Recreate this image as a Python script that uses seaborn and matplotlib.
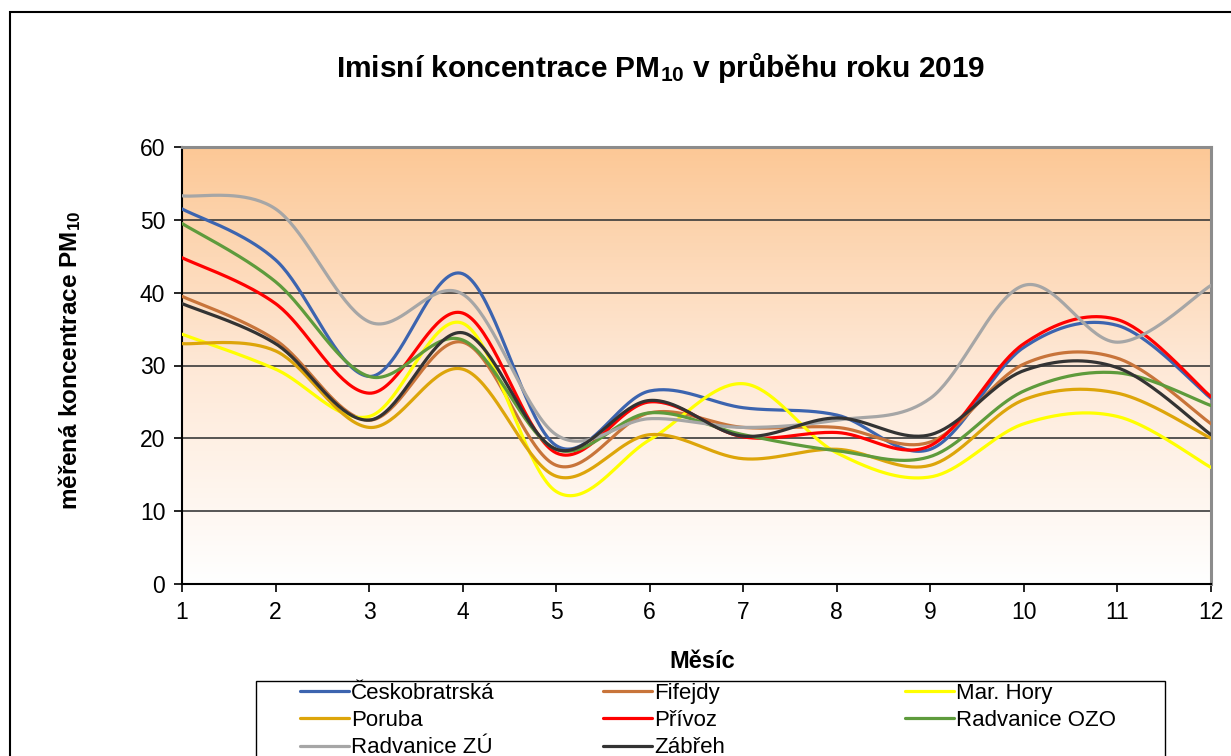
import matplotlib
matplotlib.use("Agg")

import numpy as np
import pandas as pd
import matplotlib.pyplot as plt
from matplotlib.colors import LinearSegmentedColormap
from matplotlib.patches import Rectangle
import seaborn as sns


MONTHS = list(range(1, 13))

STATIONS = [
    "Českobratrská", "Fifejdy", "Mar. Hory", "Poruba",
    "Přívoz", "Radvanice OZO", "Radvanice ZÚ", "Zábřeh",
]

ceskobratrska = [51.5, 44.5, 28.5, 42.6, 19.0, 26.5, 24.2, 23.2, 18.5, 32.5, 35.5, 25.5]
fifejdy = [39.5, 33.5, 22.5, 33.2, 16.3, 23.5, 21.5, 21.5, 19.5, 30.2, 31.0, 22.0]
mar_hory = [34.3, 29.5, 23.0, 35.8, 12.7, 19.8, 27.5, 18.0, 14.7, 22.0, 23.0, 16.0]
poruba = [33.0, 32.0, 21.5, 29.5, 14.8, 20.5, 17.2, 18.5, 16.3, 25.3, 26.2, 20.0]
privoz = [44.8, 38.5, 26.2, 37.2, 18.0, 25.0, 20.2, 20.8, 19.0, 33.0, 36.3, 25.7]
radvanice_ozo = [49.5, 41.5, 28.5, 33.5, 18.5, 23.5, 20.5, 18.3, 17.5, 26.5, 29.0, 24.5]
radvanice_zu = [53.3, 51.5, 36.0, 39.8, 20.5, 22.7, 21.5, 22.5, 25.5, 41.0, 33.2, 41.0]
zabreh = [38.5, 33.0, 22.5, 34.5, 18.5, 25.2, 20.3, 22.8, 20.5, 29.3, 29.7, 20.5]

VALUES = [ceskobratrska, fifejdy, mar_hory, poruba,
          privoz, radvanice_ozo, radvanice_zu, zabreh]

COLORS = ["#3C64AF", "#C8743A", "#FFFF00", "#DDA50A",
          "#FF0000", "#5E9B3C", "#A6A6A6", "#333333"]


def smooth(xs, ys, steps=40):
    # Excel-style smoothed line: cubic Bezier through the points
    pts = np.column_stack([xs, ys]).astype(float)
    padded = np.vstack([pts[0], pts, pts[-1]])
    out = []
    for i in range(len(pts) - 1):
        p0, p1, p2, p3 = padded[i], padded[i + 1], padded[i + 2], padded[i + 3]
        c1 = p1 + (p2 - p0) / 6
        c2 = p2 - (p3 - p1) / 6
        t = np.linspace(0, 1, steps, endpoint=(i == len(pts) - 2))[:, None]
        seg = ((1 - t) ** 3) * p1 + 3 * ((1 - t) ** 2) * t * c1 \
            + 3 * (1 - t) * t ** 2 * c2 + t ** 3 * p2
        out.append(seg)
    out = np.vstack(out)
    return out[:, 0], out[:, 1]


rows = []
for name, vals in zip(STATIONS, VALUES):
    sx, sy = smooth(MONTHS, vals)
    rows.append(pd.DataFrame({"x": sx, "y": sy, "stanice": name}))
df = pd.concat(rows, ignore_index=True)

sns.set_theme(style="white")
plt.rcParams["font.family"] = ["Liberation Sans", "DejaVu Sans"]
plt.rcParams["mathtext.default"] = "regular"
plt.rcParams["text.color"] = "black"
plt.rcParams["xtick.color"] = "black"
plt.rcParams["ytick.color"] = "black"

fig = plt.figure(figsize=(12.31, 7.56), dpi=100)
ax = fig.add_axes([182 / 1231, 1 - 584 / 756, (1211 - 182) / 1231, (584 - 147) / 756])

grad = np.linspace(1, 0, 256).reshape(-1, 1)
cmap = LinearSegmentedColormap.from_list("bg", ["#FFFFFF", "#FEE8D6", "#FCC896"])
ax.imshow(grad, extent=[1, 12, 0, 60], aspect="auto", cmap=cmap, zorder=0)

sns.lineplot(data=df, x="x", y="y", hue="stanice", palette=COLORS,
             hue_order=STATIONS, sort=False, estimator=None,
             linewidth=2.3, ax=ax, legend=False, zorder=3)

ax.set_xlim(1, 12)
ax.set_ylim(0, 60)
ax.set_xticks(MONTHS)
ax.set_yticks(range(0, 61, 10))
for yv in range(10, 60, 10):
    ax.axhline(yv, color="#3A3A3A", linewidth=1.2, zorder=2)

ax.tick_params(axis="both", which="major", labelsize=16.5, direction="out",
               length=6, width=1.2, color="black", labelcolor="black",
               left=True, bottom=True, pad=6)
for side in ["left", "bottom"]:
    ax.spines[side].set_color("black")
    ax.spines[side].set_linewidth(1.5)
for side in ["top", "right"]:
    ax.spines[side].set_color("#8C8C8C")
    ax.spines[side].set_linewidth(2.2)
ax.set_xlabel("")
ax.set_ylabel("")

fig.text(661 / 1231, 1 - 68 / 756, "Imisní koncentrace PM$_{10}$ v průběhu roku 2019",
         ha="center", va="center", fontsize=21.5, fontweight="bold")
fig.text(70 / 1231, 1 - 360 / 756, "měřená koncentrace PM$_{10}$",
         ha="center", va="center", rotation=90, fontsize=17.5, fontweight="bold")
fig.text(702 / 1231, 1 - 662 / 756, "Měsíc",
         ha="center", va="center", fontsize=17, fontweight="bold")

# outer chart frame and legend frame
fig.patches.append(Rectangle((10 / 1231, -0.1), 1.2, 1.1 - 12 / 756, fill=False,
                             edgecolor="black", linewidth=1.5,
                             transform=fig.transFigure, figure=fig))
fig.patches.append(Rectangle((256 / 1231, -0.1), (1165 - 256) / 1231, 1.1 - 681 / 756,
                             fill=False, edgecolor="black", linewidth=1.0,
                             transform=fig.transFigure, figure=fig))

handles = ax.get_lines()[:len(STATIONS)]
columns = [[0, 3, 6], [1, 4, 7], [2, 5]]
col_x = [300, 603, 905]
for idxs, cx in zip(columns, col_x):
    leg = fig.legend([handles[i] for i in idxs], [STATIONS[i] for i in idxs],
                     loc="upper left", bbox_to_anchor=(cx / 1231, 1 - 683 / 756),
                     frameon=False, fontsize=16, handlelength=2.2,
                     handletextpad=0.1, labelspacing=0.28, borderpad=0,
                     borderaxespad=0)

fig.savefig("out.png", dpi=100)
